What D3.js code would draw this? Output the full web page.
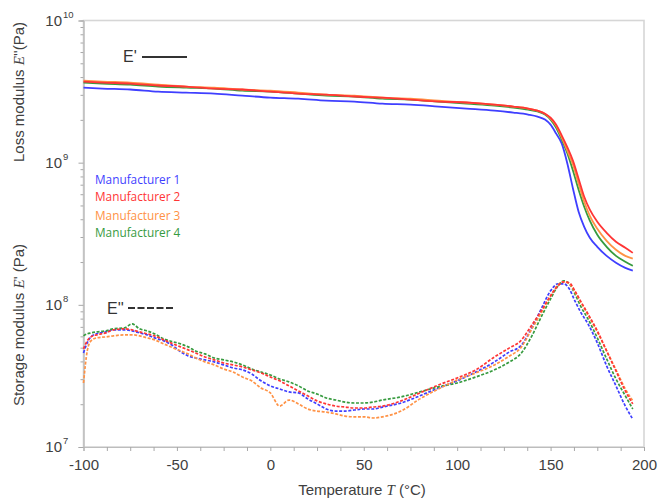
<!DOCTYPE html>
<html>
<head>
<meta charset="utf-8">
<script src="https://cdn.jsdelivr.net/npm/d3@7"></script>
<style>
  body { margin: 0; background: #fff; }
  svg { display: block; font-family: "Liberation Sans", Arial, sans-serif; }
</style>
</head>
<body>
<div id="chart"></div>
<script>
// series names and colours
var names = ["Manufacturer 1", "Manufacturer 2", "Manufacturer 3", "Manufacturer 4"];
var colors = ["#3f3fff", "#ff3535", "#ff9245", "#379b3f"];

// x tick labels, y decades
var xTickLabels = [-100, -50, 0, 50, 100, 150, 200];
var yDecades = [7, 8, 9, 10];

// E' (solid), temperature in °C, values in 1e9 Pa
var tempE1 = [-100, -90, -75, -60, -45, -30, -15, 0, 15, 30, 45, 60, 75, 90, 105, 120, 130, 138, 143, 147, 150, 153, 156, 159, 162, 165, 168, 171, 175, 180, 185, 190, 194];
var e1_m1 = [3.37, 3.32, 3.27, 3.16, 3.11, 3.06, 2.96, 2.87, 2.82, 2.73, 2.69, 2.60, 2.56, 2.48, 2.40, 2.32, 2.25, 2.18, 2.11, 2.01, 1.85, 1.60, 1.36, 0.984, 0.656, 0.452, 0.354, 0.296, 0.256, 0.221, 0.198, 0.182, 0.174];
var e1_m2 = [3.72, 3.66, 3.60, 3.49, 3.43, 3.32, 3.27, 3.16, 3.06, 3.01, 2.92, 2.87, 2.78, 2.69, 2.65, 2.56, 2.48, 2.40, 2.32, 2.21, 2.07, 1.85, 1.55, 1.28, 1.03, 0.772, 0.576, 0.467, 0.384, 0.321, 0.278, 0.252, 0.232];
var e1_m3 = [3.78, 3.72, 3.66, 3.54, 3.43, 3.37, 3.27, 3.21, 3.11, 3.01, 2.96, 2.87, 2.82, 2.73, 2.65, 2.56, 2.48, 2.40, 2.32, 2.21, 2.04, 1.82, 1.50, 1.21, 0.968, 0.711, 0.531, 0.423, 0.343, 0.282, 0.244, 0.221, 0.211];
var e1_m4 = [3.66, 3.60, 3.54, 3.43, 3.37, 3.32, 3.21, 3.16, 3.06, 2.96, 2.92, 2.82, 2.78, 2.69, 2.60, 2.52, 2.44, 2.36, 2.29, 2.18, 2.01, 1.76, 1.45, 1.16, 0.878, 0.645, 0.490, 0.391, 0.311, 0.256, 0.221, 0.201, 0.188];

// E'' (dashed), values in 1e7 Pa
var tempE2 = [-100, -98, -96, -93, -88, -84, -78, -74, -70, -66, -62, -57, -52, -48, -44, -40, -35, -30, -25, -20, -15, -10, -5, 0, 5, 10, 15, 20, 25, 30, 35, 40, 45, 50, 55, 60, 70, 80, 90, 100, 110, 120, 128, 134, 140, 145, 150, 154, 157, 160, 163, 166, 170, 175, 180, 185, 190, 194];
var e2_m1 = [4.59, 5.40, 5.95, 6.25, 6.45, 6.67, 6.67, 6.56, 6.35, 6.15, 5.86, 5.58, 5.14, 4.67, 4.37, 4.23, 4.10, 3.97, 3.78, 3.60, 3.49, 3.27, 2.92, 2.69, 2.56, 2.44, 2.40, 2.18, 2.01, 1.85, 1.79, 1.79, 1.82, 1.85, 1.85, 1.91, 2.04, 2.29, 2.60, 2.92, 3.37, 3.97, 4.67, 5.14, 6.89, 9.37, 12.55, 14.06, 14.06, 12.96, 10.67, 8.93, 7.35, 5.40, 3.72, 2.69, 1.94, 1.57];
var e2_m2 = [4.90, 5.58, 5.95, 6.15, 6.35, 6.67, 6.78, 6.67, 6.45, 6.25, 6.05, 5.67, 5.31, 5.06, 4.82, 4.59, 4.30, 4.10, 3.90, 3.78, 3.66, 3.49, 3.32, 3.11, 2.92, 2.69, 2.48, 2.29, 2.11, 2.01, 1.94, 1.91, 1.88, 1.88, 1.91, 1.94, 2.11, 2.40, 2.73, 3.06, 3.49, 4.30, 4.98, 5.58, 7.23, 9.07, 11.57, 13.61, 14.52, 14.29, 12.55, 10.67, 8.64, 6.56, 4.74, 3.43, 2.48, 2.01];
var e2_m3 = [2.82, 4.74, 5.58, 5.86, 5.95, 6.05, 6.15, 6.15, 6.05, 5.86, 5.67, 5.31, 4.98, 4.74, 4.52, 4.23, 3.97, 3.78, 3.54, 3.37, 3.11, 2.92, 2.60, 2.40, 1.94, 2.14, 2.01, 1.85, 1.79, 1.76, 1.71, 1.65, 1.63, 1.63, 1.60, 1.63, 1.79, 2.18, 2.56, 2.96, 3.32, 3.78, 4.37, 4.98, 6.78, 8.78, 11.57, 13.83, 14.52, 14.06, 12.35, 10.50, 8.50, 6.45, 4.74, 3.49, 2.56, 2.11];
var e2_m4 = [6.05, 6.25, 6.35, 6.45, 6.56, 6.78, 6.89, 7.35, 6.78, 6.56, 6.25, 5.76, 5.49, 5.31, 5.06, 4.74, 4.52, 4.23, 4.10, 3.97, 3.78, 3.54, 3.37, 3.21, 3.01, 2.87, 2.69, 2.48, 2.36, 2.21, 2.14, 2.07, 2.04, 2.04, 2.07, 2.14, 2.25, 2.44, 2.65, 2.82, 3.11, 3.49, 3.97, 4.52, 6.05, 8.23, 11.02, 13.61, 14.76, 14.06, 11.95, 9.84, 7.97, 5.86, 4.17, 3.01, 2.29, 1.85];

var width = 661, height = 499;
var plot = {left: 83.5, right: 644, top: 20.5, bottom: 447};

var svg = d3.select("#chart").append("svg")
    .attr("width", width)
    .attr("height", height);

var x = d3.scaleLinear()
    .domain([-100, 200])
    .range([plot.left, plot.right]);

var y = d3.scaleLog()
    .domain([1e7, 1e10])
    .range([plot.bottom, plot.top]);

// frame
svg.append("rect")
    .attr("x", plot.left)
    .attr("y", plot.top)
    .attr("width", plot.right - plot.left)
    .attr("height", plot.bottom - plot.top)
    .attr("fill", "none")
    .attr("stroke", "#d6d6d6")
    .attr("stroke-width", 1.6);

// x axis
var xAxis = svg.append("g")
    .attr("transform", "translate(0," + plot.bottom + ")")
    .call(d3.axisBottom(x)
        .tickValues(d3.range(-100, 200.1, 12.5))
        .tickSize(4)
        .tickFormat(function(d) { return xTickLabels.indexOf(d) >= 0 ? String(d) : ""; }));
xAxis.select(".domain").attr("stroke", "#bdbdbd");
xAxis.selectAll(".tick line").attr("stroke", "#a8a8a8");
xAxis.selectAll("text")
    .attr("fill", "#404040")
    .attr("dy", "1.05em")
    .style("font-size", "15px")
    .style("font-family", "Liberation Sans, Arial, sans-serif");

// y axis: minor ticks + major ticks
var minor = [];
yDecades.slice(0, 3).forEach(function(e) {
    for (var m = 2; m <= 9; m++) minor.push(m * Math.pow(10, e));
});
var yMinor = svg.append("g")
    .attr("transform", "translate(" + plot.left + ",0)")
    .call(d3.axisLeft(y).tickValues(minor).tickSize(3).tickFormat(""));
var yMajor = svg.append("g")
    .attr("transform", "translate(" + plot.left + ",0)")
    .call(d3.axisLeft(y).tickValues(yDecades.map(function(e) { return Math.pow(10, e); })).tickSize(5).tickFormat(""));
[yMinor, yMajor].forEach(function(g) {
    g.select(".domain").attr("stroke", "#bdbdbd");
    g.selectAll(".tick line").attr("stroke", "#a8a8a8");
});

var yLabels = svg.append("g").attr("fill", "#404040");
yDecades.forEach(function(e) {
    var yy = y(Math.pow(10, e));
    yLabels.append("text")
        .attr("x", 62)
        .attr("y", yy + 5)
        .attr("text-anchor", "end")
        .style("font-size", "15px")
        .text("10");
    yLabels.append("text")
        .attr("x", 63)
        .attr("y", yy - 3)
        .style("font-size", "9.5px")
        .text(e);
});

// curves
var line = d3.line()
    .x(function(d) { return x(d[0]); })
    .y(function(d) { return y(d[1]); })
    .curve(d3.curveMonotoneX);

var e1 = [e1_m1, e1_m2, e1_m3, e1_m4];
var e2 = [e2_m1, e2_m2, e2_m3, e2_m4];
var order = [0, 3, 2, 1];

order.forEach(function(i) {
    var pts = tempE2.map(function(t, j) { return [t, e2[i][j] * 1e7]; });
    svg.append("path")
        .datum(pts)
        .attr("d", line)
        .attr("fill", "none")
        .attr("stroke", colors[i])
        .attr("stroke-width", 1.7)
        .attr("stroke-dasharray", "3,1.6");
});

order.forEach(function(i) {
    var pts = tempE1.map(function(t, j) { return [t, e1[i][j] * 1e9]; });
    svg.append("path")
        .datum(pts)
        .attr("d", line)
        .attr("fill", "none")
        .attr("stroke", colors[i])
        .attr("stroke-width", 1.8);
});

// legend
var legendY = [184, 201, 220, 237];
names.forEach(function(n, i) {
    svg.append("text")
        .attr("x", 95)
        .attr("y", legendY[i])
        .attr("fill", colors[i])
        .style("font-family", "Open Sans, sans-serif")
        .style("font-size", "11.8px")
        .text(n);
});

// E' / E'' keys
svg.append("text")
    .attr("x", 123).attr("y", 62)
    .attr("fill", "#333")
    .style("font-size", "16px")
    .text("E'");
svg.append("line")
    .attr("x1", 142).attr("x2", 187)
    .attr("y1", 57).attr("y2", 57)
    .attr("stroke", "#333").attr("stroke-width", 2.2);
svg.append("text")
    .attr("x", 107).attr("y", 314)
    .attr("fill", "#333")
    .style("font-size", "16px")
    .text("E''");
svg.append("line")
    .attr("x1", 128).attr("x2", 173)
    .attr("y1", 308).attr("y2", 308)
    .attr("stroke", "#333").attr("stroke-width", 2.2)
    .attr("stroke-dasharray", "7,2.5");

// axis titles
var xTitle = svg.append("text")
    .attr("x", 362)
    .attr("y", 495)
    .attr("text-anchor", "middle")
    .attr("fill", "#404040")
    .style("font-size", "15px");
xTitle.append("tspan").text("Temperature ");
xTitle.append("tspan").style("font-family", "Liberation Serif, serif").style("font-style", "italic").text("T");
xTitle.append("tspan").text(" (°C)");

function yTitle(cy, pre, post) {
    var t = svg.append("text")
        .attr("transform", "translate(24," + cy + ") rotate(-90)")
        .attr("text-anchor", "middle")
        .attr("fill", "#404040")
        .style("font-size", "15px");
    t.append("tspan").text(pre);
    t.append("tspan").style("font-family", "Liberation Serif, serif").style("font-style", "italic").text("E");
    t.append("tspan").text(post);
}
yTitle(92, "Loss modulus ", "''(Pa)");
yTitle(325, "Storage modulus ", "'  (Pa)");
</script>
</body>
</html>
